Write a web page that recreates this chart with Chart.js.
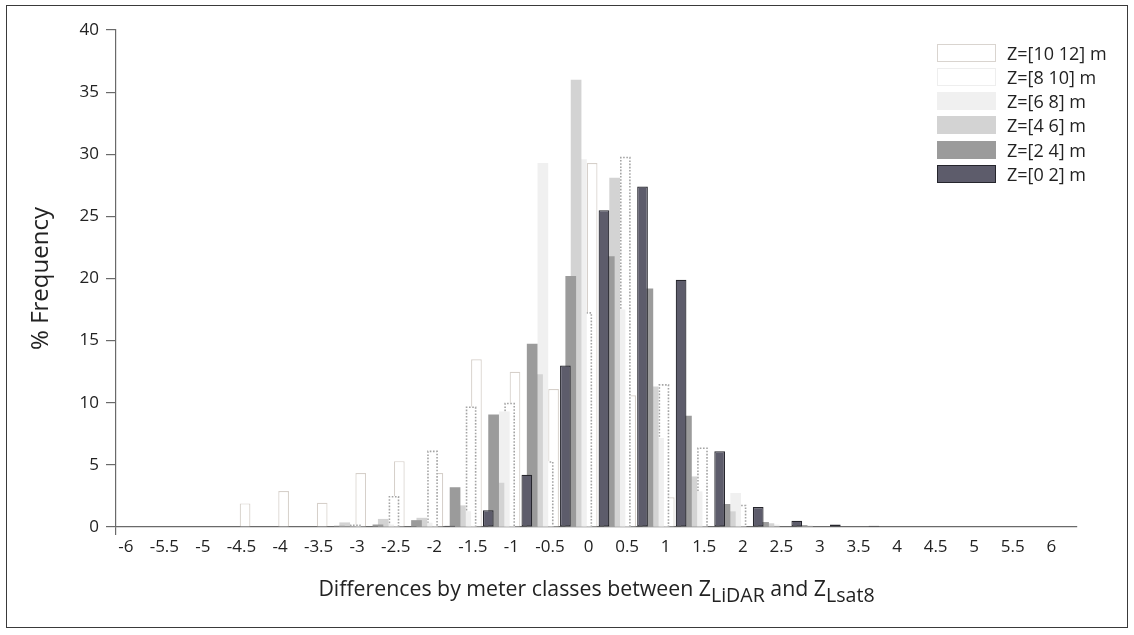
<!DOCTYPE html>
<html>
<head>
<meta charset="utf-8">
<script src="https://cdn.jsdelivr.net/npm/chart.js@4.4.1/dist/chart.umd.min.js"></script>
<style>
  html, body { margin: 0; padding: 0; background: #fff; }
  #wrap { position: relative; width: 1134px; height: 635px; overflow: hidden;
          font-family: 'Open Sans', sans-serif; color: #222; }
  #chart { position: absolute; left: 0; top: 0; }
  #frame { position: absolute; left: 6px; top: 5px; width: 1120px; height: 621px;
           border: 1.3px solid #3a3a3a; pointer-events: none; }
  #legend { position: absolute; left: 937px; top: 44px; }
  .row { display: flex; align-items: center; height: 18px; margin-bottom: 6.15px; }
  .sw { width: 59px; height: 18px; box-sizing: border-box; margin-right: 11px; }
  .lab { font-size: 18px; line-height: 18px; white-space: nowrap; }
  #xtitle { position: absolute; left: 116px; width: 961px; top: 575px; text-align: center;
            font-size: 21.3px; line-height: 26px; white-space: nowrap; }
  #xtitle sub { font-size: 0.92em; vertical-align: -0.32em; line-height: 0; }
</style>
</head>
<body>
<div id="wrap">
  <canvas id="chart" width="1134" height="635"></canvas>
  <div id="frame"></div>
  <div id="legend"></div>
  <div id="xtitle">Differences by meter classes between Z<sub>LiDAR</sub> and Z<sub>Lsat8</sub></div>
</div>
<script>
// Difference classes (m) and their axis labels
const categories = [-6, -5.5, -5, -4.5, -4, -3.5, -3, -2.5, -2, -1.5, -1, -0.5, 0,
                    0.5, 1, 1.5, 2, 2.5, 3, 3.5, 4, 4.5, 5, 5.5, 6];
const tickLabels = ['-6', '-5.5', '-5', '-4.5', '-4', '-3.5', '-3', '-2.5', '-2', '-1.5', '-1', '-0.5', '0',
                    '0.5', '1', '1.5', '2', '2.5', '3', '3.5', '4', '4.5', '5', '5.5', '6'];

// % frequency per height class Z
const z0_2   = [0, 0, 0, 0, 0, 0, 0, 0, 0.05, 0.1, 1.35, 4.2, 13.0, 25.5, 27.4, 19.9, 6.1, 1.6, 0.5, 0.2, 0.1, 0.05, 0, 0, 0];
const z2_4   = [0, 0, 0, 0, 0, 0, 0.1, 0.2, 0.55, 3.2, 9.05, 14.75, 20.2, 21.8, 19.2, 8.95, 1.85, 0.4, 0.15, 0, 0, 0, 0, 0, 0];
const z4_6   = [0, 0, 0, 0, 0, 0, 0.37, 0.65, 0.74, 1.74, 3.56, 12.3, 36.0, 28.1, 11.3, 4.07, 1.26, 0.3, 0.1, 0, 0, 0, 0, 0, 0];
const z6_8   = [0, 0, 0, 0, 0, 0, 0, 0.2, 0.35, 1.27, 9.3, 29.3, 29.6, 17.5, 7.16, 2.87, 2.74, 0.2, 0, 0, 0, 0, 0, 0, 0];
const z8_10  = [0, 0, 0, 0, 0, 0, 0.2, 2.5, 6.15, 9.7, 10.0, 5.3, 17.3, 29.8, 11.5, 6.4, 1.8, 0, 0, 0, 0, 0, 0, 0, 0];
const z10_12 = [0, 0, 0, 1.9, 2.9, 1.95, 4.35, 5.3, 4.35, 13.5, 12.5, 11.1, 29.3, 10.6, 2.4, 0, 0, 0, 0, 0, 0, 0, 0, 0, 0];

const seriesNames = ['Z=[0 2] m', 'Z=[2 4] m', 'Z=[4 6] m', 'Z=[6 8] m', 'Z=[8 10] m', 'Z=[10 12] m'];
const yTicks = [0, 5, 10, 15, 20, 25, 30, 35, 40];

const FONT = 'Open Sans';
const points = vals => categories.map((c, i) => ({ x: c, y: vals[i] }));

const common = { categoryPercentage: 0.832, barPercentage: 2.0 };
const datasets = [
  { ...common, label: seriesNames[0], data: points(z0_2),   backgroundColor: '#5d5c6b', borderColor: '#25252c', borderWidth: 1.2, borderSkipped: false },
  { ...common, label: seriesNames[1], data: points(z2_4),   backgroundColor: '#9b9b9b', borderWidth: 0 },
  { ...common, label: seriesNames[2], data: points(z4_6),   backgroundColor: '#d3d3d3', borderWidth: 0 },
  { ...common, label: seriesNames[3], data: points(z6_8),   backgroundColor: '#f0f0f0', borderWidth: 0 },
  { ...common, label: seriesNames[4], data: points(z8_10),  backgroundColor: '#ffffff', borderWidth: 0, dottedBorder: '#a4a4a4' },
  { ...common, label: seriesNames[5], data: points(z10_12), backgroundColor: '#ffffff', borderColor: '#d6d0ca', borderWidth: 1.2 }
];

// dotted outline for the bars of the [8 10] class
const dottedOutline = {
  id: 'dottedOutline',
  afterDatasetDraw(chart, args) {
    const ds = chart.data.datasets[args.index];
    if (!ds.dottedBorder) return;
    const ctx = chart.ctx;
    ctx.save();
    ctx.setLineDash([1.6, 1.6]);
    ctx.strokeStyle = ds.dottedBorder;
    ctx.lineWidth = 1.6;
    args.meta.data.forEach(bar => {
      const { x, y, base, width } = bar.getProps(['x', 'y', 'base', 'width'], true);
      if (Math.abs(base - y) < 0.5) return;
      const l = x - width / 2 + 0.8, r = x + width / 2 - 0.8, t = y + 0.8;
      ctx.beginPath();
      ctx.moveTo(l, base); ctx.lineTo(l, t); ctx.lineTo(r, t); ctx.lineTo(r, base);
      ctx.stroke();
    });
    ctx.restore();
  }
};

new Chart(document.getElementById('chart'), {
  type: 'bar',
  data: { datasets },
  plugins: [dottedOutline],
  options: {
    responsive: false,
    animation: false,
    devicePixelRatio: 1,
    layout: { padding: { left: 0, top: 30, right: 57, bottom: 0 } },
    plugins: { legend: { display: false }, tooltip: { enabled: false } },
    scales: {
      x: {
        type: 'linear', offset: false, min: -6, max: 6.46,
        afterBuildTicks: s => { s.ticks = categories.map(v => ({ value: v })); },
        afterFit: s => { s.height = 635 - 527; },
        grid: { display: true, offset: false, drawOnChartArea: false, drawTicks: true, tickLength: 8,
                color: ctx => ctx.index === 0 ? '#6a6a6a' : 'rgba(0,0,0,0)', lineWidth: 1.2 },
        border: { display: true, color: '#6a6a6a', width: 1.2 },
        ticks: { callback: (v, i) => tickLabels[i], autoSkip: false, maxRotation: 0,
                 labelOffset: 9.8, padding: 2, color: '#222', font: { family: FONT, size: 17 } }
      },
      y: {
        min: 0, max: 40,
        afterBuildTicks: s => { s.ticks = yTicks.map(v => ({ value: v })); },
        afterFit: s => { s.width = 116; },
        grid: { display: true, drawOnChartArea: false, drawTicks: true, tickLength: 10, color: '#6a6a6a', lineWidth: 1.2 },
        border: { display: true, color: '#6a6a6a', width: 1.2 },
        ticks: { padding: 7, color: '#222', font: { family: FONT, size: 17 } },
        title: { display: true, text: '% Frequency', color: '#222',
                 font: { family: FONT, size: 24 }, padding: { top: 27, bottom: 0 } }
      }
    }
  }
});

// legend, listed from the tallest class down
const swatches = {
  'Z=[10 12] m': { background: '#ffffff', border: '1.3px solid #d9d4cf' },
  'Z=[8 10] m':  { background: '#ffffff', border: '1.3px solid #eeeeee' },
  'Z=[6 8] m':   { background: '#f0f0f0', border: '0' },
  'Z=[4 6] m':   { background: '#d3d3d3', border: '0' },
  'Z=[2 4] m':   { background: '#9b9b9b', border: '0' },
  'Z=[0 2] m':   { background: '#5d5c6b', border: '1.3px solid #25252c' }
};
const legend = document.getElementById('legend');
seriesNames.slice().reverse().forEach(name => {
  const row = document.createElement('div');
  row.className = 'row';
  const sw = document.createElement('div');
  sw.className = 'sw';
  sw.style.background = swatches[name].background;
  sw.style.border = swatches[name].border;
  const lab = document.createElement('span');
  lab.className = 'lab';
  lab.textContent = name;
  row.appendChild(sw);
  row.appendChild(lab);
  legend.appendChild(row);
});
</script>
</body>
</html>
